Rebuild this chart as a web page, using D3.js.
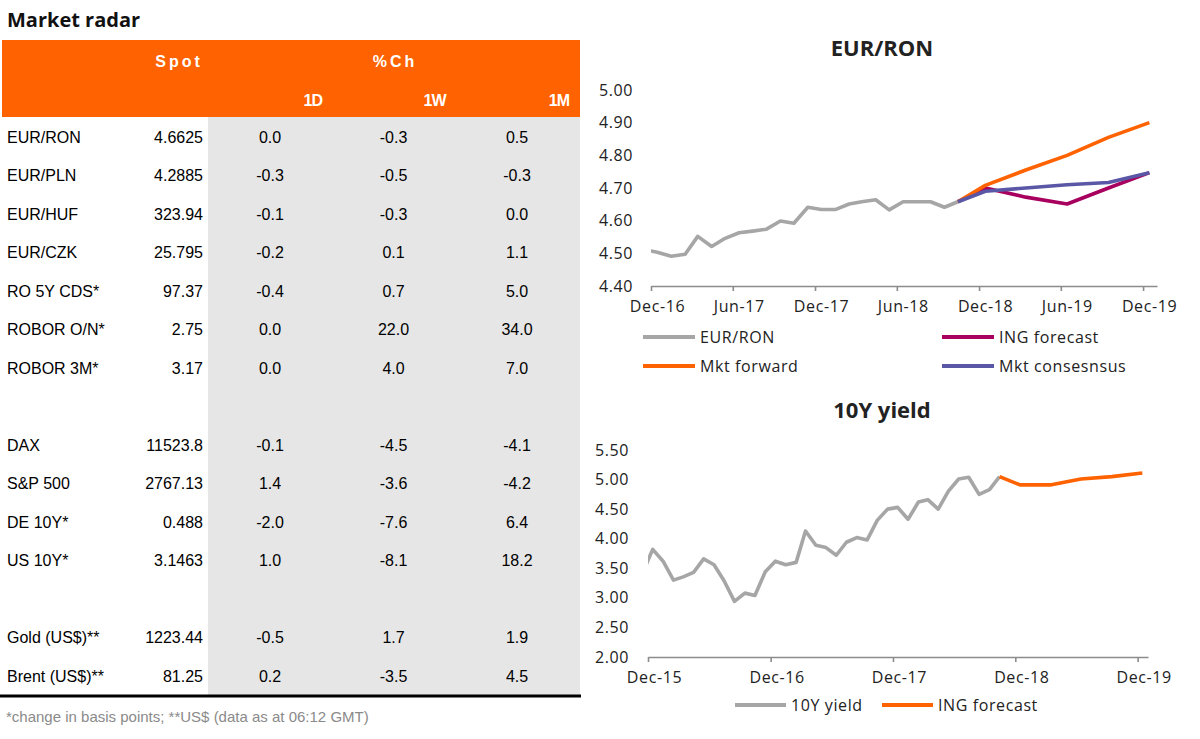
<!DOCTYPE html>
<html>
<head>
<meta charset="utf-8">
<script src="https://cdn.jsdelivr.net/npm/d3@7"></script>
<style>
  body { margin: 0; background: #fff; }
  svg { display: block; }
</style>
</head>
<body>
<div id="chartDiv"></div>
<script>
// ---- table data ----
const rowLabels = ["EUR/RON", "EUR/PLN", "EUR/HUF", "EUR/CZK", "RO 5Y CDS*", "ROBOR O/N*", "ROBOR 3M*", "",
  "DAX", "S&P 500", "DE 10Y*", "US 10Y*", "", "Gold (US$)**", "Brent (US$)**"];
const spotValues = ["4.6625", "4.2885", "323.94", "25.795", "97.37", "2.75", "3.17", "",
  "11523.8", "2767.13", "0.488", "3.1463", "", "1223.44", "81.25"];
const chg1D = ["0.0", "-0.3", "-0.1", "-0.2", "-0.4", "0.0", "0.0", "", "-0.1", "1.4", "-2.0", "1.0", "", "-0.5", "0.2"];
const chg1W = ["-0.3", "-0.5", "-0.3", "0.1", "0.7", "22.0", "4.0", "", "-4.5", "-3.6", "-7.6", "-8.1", "", "1.7", "-3.5"];
const chg1M = ["0.5", "-0.3", "0.0", "1.1", "5.0", "34.0", "7.0", "", "-4.1", "-4.2", "6.4", "18.2", "", "1.9", "4.5"];
const changeCols = ["1D", "1W", "1M"];

// ---- EUR/RON chart data ----
const ronMonths = ["2016-11", "2016-12", "2017-01", "2017-02", "2017-03", "2017-04", "2017-05", "2017-06",
  "2017-07", "2017-08", "2017-09", "2017-10", "2017-11", "2017-12", "2018-01", "2018-02", "2018-03",
  "2018-04", "2018-05", "2018-06", "2018-07", "2018-08", "2018-09", "2018-10"];
const ronSpot = [4.512, 4.503, 4.491, 4.497, 4.552, 4.521, 4.546, 4.563, 4.568, 4.574, 4.599, 4.592, 4.641,
  4.634, 4.634, 4.651, 4.658, 4.664, 4.633, 4.658, 4.658, 4.658, 4.641, 4.658];
const fcMonths = ["2018-10", "2018-12", "2019-03", "2019-06", "2019-09", "2019-12"];
const ronIng = [4.658, 4.700, 4.672, 4.651, 4.700, 4.747];
const ronFwd = [4.658, 4.708, 4.755, 4.800, 4.855, 4.900];
const ronCons = [4.658, 4.690, 4.700, 4.710, 4.717, 4.747];
const ronTicks = ["2016-12", "2017-06", "2017-12", "2018-06", "2018-12", "2019-06", "2019-12"];

// ---- 10Y yield chart data ----
const ylMonths = ["2015-11", "2015-12", "2016-01", "2016-02", "2016-03", "2016-04", "2016-05", "2016-06",
  "2016-07", "2016-08", "2016-09", "2016-10", "2016-11", "2016-12", "2017-01", "2017-02", "2017-03",
  "2017-04", "2017-05", "2017-06", "2017-07", "2017-08", "2017-09", "2017-10", "2017-11", "2017-12",
  "2018-01", "2018-02", "2018-03", "2018-04", "2018-05", "2018-06", "2018-07", "2018-08", "2018-09", "2018-10"];
const ylYield = [3.42, 3.82, 3.62, 3.30, 3.355, 3.43, 3.66, 3.56, 3.29, 2.94, 3.08, 3.04, 3.44, 3.62, 3.56,
  3.60, 4.13, 3.89, 3.85, 3.72, 3.94, 4.02, 3.98, 4.31, 4.50, 4.53, 4.33, 4.62, 4.66, 4.50, 4.80, 5.01,
  5.04, 4.75, 4.83, 5.05];
const ylIng = [5.05, 4.91, 4.91, 5.01, 5.05, 5.11];
const ylTicks = ["2015-12", "2016-12", "2017-12", "2018-12", "2019-12"];

const GREY = "#a6a6a6", ORANGE = "#ff6200", MAGENTA = "#a8005e", BLUE = "#5a58a6";
const chartFont = "'Open Sans', 'DejaVu Sans', sans-serif";
const tableFont = "'Liberation Sans', Arial, sans-serif";

const parseMonth = d3.timeParse("%Y-%m");
const midMonth = m => d3.timeDay.offset(parseMonth(m), 14);
const fmtTick = d3.timeFormat("%b-%y");

const svg = d3.create("svg").attr("width", 1200).attr("height", 739).attr("viewBox", [0, 0, 1200, 739]);

// ================= table =================
svg.append("text").attr("x", 7).attr("y", 27)
  .attr("font-family", chartFont).attr("font-weight", 700).attr("font-size", 20).attr("fill", "#111")
  .text("Market radar");

svg.append("rect").attr("x", 2).attr("y", 40).attr("width", 578).attr("height", 77).attr("fill", ORANGE);
svg.append("rect").attr("x", 208).attr("y", 117).attr("width", 372).attr("height", 578).attr("fill", "#e6e6e6");

const head = svg.append("g").attr("font-family", tableFont).attr("font-weight", 700)
  .attr("font-size", 16).attr("fill", "#fff");
head.append("text").attr("x", 179).attr("y", 61).attr("text-anchor", "middle")
  .attr("dominant-baseline", "central").attr("letter-spacing", 3).text("Spot");
head.append("text").attr("x", 395).attr("y", 61).attr("text-anchor", "middle")
  .attr("dominant-baseline", "central").attr("letter-spacing", 3).text("%Ch");

const colX = d3.scalePoint().domain(changeCols).range([270, 517]);
head.selectAll("text.col").data(changeCols).join("text").attr("class", "col")
  .attr("x", d => colX(d) + 52).attr("y", 100).attr("text-anchor", "end")
  .attr("dominant-baseline", "central").attr("letter-spacing", -1).text(d => d);

const rowY = d3.scalePoint().domain(d3.range(rowLabels.length)).range([137, 676]);
const body = svg.append("g").attr("font-family", tableFont).attr("font-size", 16).attr("fill", "#000");
const rows = body.selectAll("g").data(rowLabels).join("g")
  .attr("transform", (d, i) => `translate(0,${rowY(i)})`);
rows.append("text").attr("x", 7).attr("dominant-baseline", "central").text(d => d);
rows.append("text").attr("x", 203).attr("text-anchor", "end").attr("dominant-baseline", "central")
  .text((d, i) => spotValues[i]);
[chg1D, chg1W, chg1M].forEach((col, c) => {
  rows.append("text").attr("x", colX(changeCols[c])).attr("text-anchor", "middle")
    .attr("dominant-baseline", "central").text((d, i) => col[i]);
});

svg.append("line").attr("x1", 0).attr("x2", 581).attr("y1", 696).attr("y2", 696)
  .attr("stroke", "#000").attr("stroke-width", 3);
svg.append("text").attr("x", 6).attr("y", 716).attr("dominant-baseline", "central")
  .attr("font-family", tableFont).attr("font-size", 15).attr("fill", "#8a8a8a")
  .text("*change in basis points; **US$ (data as at 06:12 GMT)");

// ================= chart helper =================
function drawChart(cfg) {
  const g = svg.append("g");
  const x = d3.scaleTime().domain(cfg.xDomain).range(cfg.xRange);
  const y = d3.scaleLinear().domain(cfg.yDomain).range(cfg.yRange);

  g.append("text").attr("x", cfg.titleX).attr("y", cfg.titleY).attr("text-anchor", "middle")
    .attr("font-family", chartFont).attr("font-weight", 700).attr("font-size", 22).attr("fill", "#222")
    .text(cfg.title);

  // y labels
  g.append("g").attr("transform", `translate(${cfg.yLabelX},0)`)
    .call(d3.axisLeft(y).tickValues(cfg.yTicks).tickFormat(d3.format(".2f")).tickSize(0).tickPadding(0))
    .call(a => a.select(".domain").remove())
    .call(a => a.selectAll("text").attr("font-family", chartFont).attr("font-size", 16)
      .attr("fill", "#222").attr("letter-spacing", 0.6));

  // x axis
  g.append("g").attr("transform", `translate(0,${cfg.yRange[0]})`)
    .call(d3.axisBottom(x).tickValues(cfg.xTicks.map(parseMonth)).tickFormat(fmtTick)
      .tickSize(5).tickSizeOuter(0).tickPadding(10))
    .call(a => a.select(".domain").attr("stroke", "#8c8c8c").attr("stroke-width", 1.6))
    .call(a => a.selectAll(".tick line").attr("stroke", "#8c8c8c").attr("stroke-width", 1.6))
    .call(a => a.selectAll("text").attr("font-family", chartFont).attr("font-size", 16)
      .attr("fill", "#222").attr("dx", 6).attr("letter-spacing", 0.6));

  const clipId = "clip-" + cfg.id;
  g.append("clipPath").attr("id", clipId).append("rect")
    .attr("x", cfg.xRange[0]).attr("y", cfg.yRange[1] - 10)
    .attr("width", cfg.xRange[1] - cfg.xRange[0]).attr("height", cfg.yRange[0] - cfg.yRange[1] + 10);

  const line = d3.line().x(d => x(d[0])).y(d => y(d[1]));
  const lines = g.append("g").attr("clip-path", `url(#${clipId})`).attr("fill", "none")
    .attr("stroke-width", 3.6).attr("stroke-linejoin", "round");
  cfg.series.forEach(s => {
    lines.append("path").attr("stroke", s.color)
      .attr("d", line(s.months.map((m, i) => [midMonth(m), s.values[i]])));
  });

  // legend
  const leg = g.append("g").attr("font-family", chartFont).attr("font-size", 16).attr("fill", "#222");
  cfg.series.forEach((s, i) => {
    const p = cfg.legendPos[i];
    leg.append("line").attr("x1", p[0]).attr("x2", p[0] + cfg.swatch).attr("y1", p[1]).attr("y2", p[1])
      .attr("stroke", s.color).attr("stroke-width", 4);
    leg.append("text").attr("x", p[0] + cfg.swatch + 5).attr("y", p[1]).attr("dominant-baseline", "central")
      .attr("letter-spacing", 0.6).text(s.name);
  });
}

drawChart({
  id: "ron", title: "EUR/RON", titleX: 882, titleY: 56,
  xDomain: [parseMonth("2016-12"), parseMonth("2020-01")], xRange: [651, 1157],
  yDomain: [4.4, 5.0], yRange: [286, 90], yTicks: d3.range(4.4, 5.001, 0.1), yLabelX: 633,
  xTicks: ronTicks, swatch: 52,
  series: [
    { name: "EUR/RON", color: GREY, months: ronMonths, values: ronSpot },
    { name: "ING forecast", color: MAGENTA, months: fcMonths, values: ronIng },
    { name: "Mkt forward", color: ORANGE, months: fcMonths, values: ronFwd },
    { name: "Mkt consesnsus", color: BLUE, months: fcMonths, values: ronCons }
  ],
  legendPos: [[643, 337], [942, 337], [643, 366], [942, 366]]
});

drawChart({
  id: "yield", title: "10Y yield", titleX: 882, titleY: 418,
  xDomain: [parseMonth("2015-12"), parseMonth("2020-01")], xRange: [648, 1148],
  yDomain: [2.0, 5.5], yRange: [657, 450], yTicks: d3.range(2.0, 5.501, 0.5), yLabelX: 629,
  xTicks: ylTicks, swatch: 51,
  series: [
    { name: "10Y yield", color: GREY, months: ylMonths, values: ylYield },
    { name: "ING forecast", color: ORANGE, months: fcMonths, values: ylIng }
  ],
  legendPos: [[735, 705], [882, 705]]
});

document.getElementById("chartDiv").appendChild(svg.node());
</script>
</body>
</html>
